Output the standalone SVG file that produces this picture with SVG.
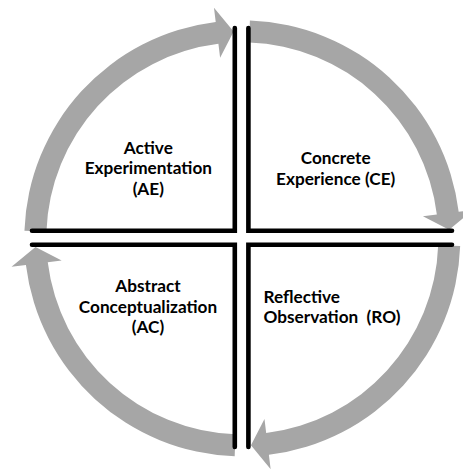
<svg xmlns="http://www.w3.org/2000/svg" width="463" height="469" viewBox="0 0 463 469">
  <style>
    .arc { fill: #A6A6A6; stroke: none; }
    .div { fill: none; stroke: #000; stroke-width: 4.6; stroke-linecap: round; stroke-linejoin: miter; }
    .lbl { font-family: "Lato", "Liberation Sans", sans-serif; font-weight: bold; font-size: 17.2px; fill: #000; }
    .c { text-anchor: middle; }
  </style>
  <defs>
    <path id="arcArrow" d="M217.87,7.61 A218,218 0 0 1 26.57,216.38 L28.33,230.77 L8.67,206.82 L22.18,180.64 L23.89,194.54 A196,196 0 0 0 195.88,6.84 Z"/>
  </defs>
  <rect width="463" height="469" fill="#fff"/>
  <g id="connectors">
    <use href="#arcArrow" class="arc" transform="translate(242.3,238.4) rotate(180)"/>
    <use href="#arcArrow" class="arc" transform="translate(242.3,238.4) rotate(270)"/>
    <use href="#arcArrow" class="arc" transform="translate(242.3,238.4)"/>
    <use href="#arcArrow" class="arc" transform="translate(242.3,238.4) rotate(90)"/>
  </g>
  <g id="node-ae">
    <path class="div" d="M234.8,28 L234.8,230.8 L32,230.8"/>
    <text class="lbl c" x="148.3" y="153.5">Active</text>
    <text class="lbl c" x="148.3" y="174">Experimentation</text>
    <text class="lbl c" x="148.3" y="194.5">(AE)</text>
  </g>
  <g id="node-ce">
    <path class="div" d="M248.4,28 L248.4,230.8 L452,230.8"/>
    <text class="lbl c" x="335.7" y="164.3">Concrete</text>
    <text class="lbl c" x="335.7" y="184.8">Experience (CE)</text>
  </g>
  <g id="node-ac">
    <path class="div" d="M32,244.7 L234.8,244.7 L234.8,447"/>
    <text class="lbl c" x="148" y="292">Abstract</text>
    <text class="lbl c" x="148" y="312.5">Conceptualization</text>
    <text class="lbl c" x="148" y="333">(AC)</text>
  </g>
  <g id="node-ro">
    <path class="div" d="M452,244.7 L248.4,244.7 L248.4,447"/>
    <text class="lbl" x="263.5" y="303.3">Reflective</text>
    <text class="lbl" x="263.5" y="323.3" xml:space="preserve">Observation  (RO)</text>
  </g>
</svg>
